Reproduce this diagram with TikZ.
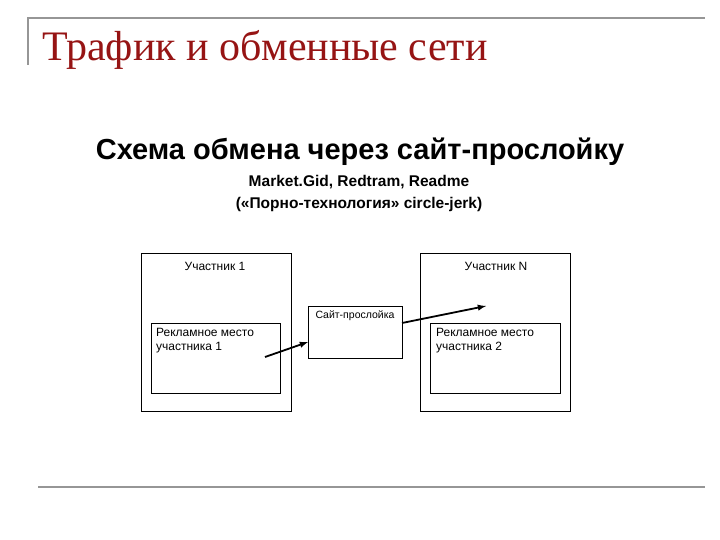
\documentclass[tikz,border=0pt]{standalone}
\usepackage{fontspec}
\setmainfont{Liberation Serif}
\newfontfamily\arial{Liberation Sans}
\definecolor{titlered}{RGB}{150,20,20}
\definecolor{rulegray}{RGB}{150,150,150}
\begin{document}
\begin{tikzpicture}[x=1pt,y=-1pt,
  box/.style={draw,line width=0.8pt},
  lbl/.style={font=\arial\fontsize{12}{14.5}\selectfont},
  arr/.style={-latex,line width=1.8pt}]
\useasboundingbox (0,0) rectangle (720,540);
\draw[rulegray,line width=1.6pt] (28,65) -- (28,18) -- (705,18);
\draw[rulegray,line width=1.6pt] (38,487) -- (705,487);
\node[anchor=west,text=titlered,font=\fontsize{42}{46}\selectfont,inner sep=0pt] (t) at (42,50) {Трафик и обменные сети};
\node[font=\arial\bfseries\fontsize{29}{32}\selectfont] (s) at (360,152) {Схема обмена через сайт-прослойку};
\node[font=\arial\bfseries\fontsize{15.5}{18}\selectfont] (m1) at (359,182) {Market.Gid, Redtram, Readme};
\node[font=\arial\bfseries\fontsize{15.5}{18}\selectfont] (m2) at (359,204) {(«Порно-технология» circle-jerk)};
\draw[box] (141,253) rectangle (291,411);
\node[lbl] (u1) at (215,266) {Участник 1};
\draw[box] (420,253) rectangle (570,411);
\node[lbl] (un) at (496,266) {Участник N};
\draw[box] (151,323) rectangle (280,393);
\node[lbl,anchor=north west,align=left,inner sep=0pt] (r1) at (156,328) {Рекламное место\\участника 1};
\draw[box] (430,323) rectangle (560,393);
\node[lbl,anchor=north west,align=left,inner sep=0pt] (r2) at (436,328) {Рекламное место\\участника 2};
\draw[box] (308,306) rectangle (402,358);
\node[lbl,font=\arial\fontsize{10.5}{12}\selectfont] (sp) at (355,316) {Сайт-прослойка};
\coordinate (a1) at (265,357);
\coordinate (a2) at (308,342);
\coordinate (b1) at (402,323);
\coordinate (b2) at (486,306);
\draw[arr] (a1) -- (a2);
\draw[arr] (b1) -- (b2);
\end{tikzpicture}
\end{document}
